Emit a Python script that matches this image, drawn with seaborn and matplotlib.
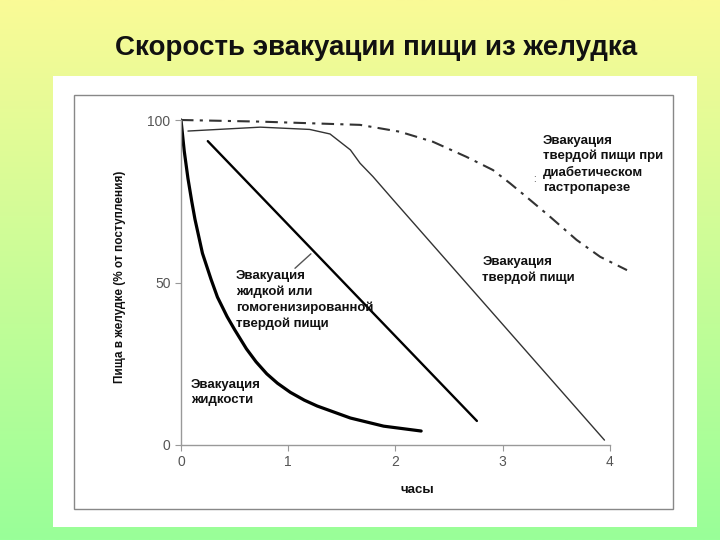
import numpy as np
import matplotlib.pyplot as plt
import seaborn as sns
from matplotlib.patches import Rectangle

# Data (hours, % of intake left in stomach)
liquid_t = [0, 0.03, 0.065, 0.1, 0.13, 0.2, 0.28, 0.34, 0.43, 0.5, 0.61, 0.7, 0.8, 0.9,
            1.02, 1.15, 1.27, 1.58, 1.89, 2.24]
liquid_y = [100, 90.5, 82, 75, 69.5, 59, 51, 45.5, 39.5, 35.5, 29.6, 25.6, 21.9, 19,
            16.2, 13.8, 12, 8.3, 5.8, 4.3]

homog_t = [0.25, 2.76]
homog_y = [93.5, 7.4]

solid_t = [0.065, 0.74, 1.2, 1.39, 1.58, 1.67, 1.79, 1.98, 3.95]
solid_y = [96.6, 97.8, 97.1, 95.7, 90.8, 86.7, 82.6, 75.4, 1.5]

diab_t = [0, 0.74, 1.67, 2.04, 2.35, 2.66, 2.91, 3.07, 3.22, 3.44, 3.69, 3.91, 4.16]
diab_y = [100, 99.5, 98.5, 96.4, 93.3, 88.7, 84.6, 80.5, 76.4, 70.3, 63.1, 57.9, 53.8]

x_ticks = [0, 1, 2, 3, 4]
y_ticks = [0, 50, 100]

title = "Скорость эвакуации пищи из желудка"
ylabel = "Пища в желудке (% от поступления)"
xlabel = "часы"

sns.set_style("white")
plt.rcParams['font.family'] = ['Liberation Sans', 'DejaVu Sans']

fig = plt.figure(figsize=(7.2, 5.4), dpi=100)

# gradient background yellow -> green
bg = fig.add_axes([0, 0, 1, 1])
top = np.array([250, 250, 150]) / 255
bottom = np.array([153, 255, 153]) / 255
grad = np.linspace(0, 1, 256)[:, None, None]
img = top + (bottom - top) * grad
bg.imshow(img, aspect='auto', extent=[0, 1, 0, 1])
bg.set_xlim(0, 1)
bg.set_ylim(0, 1)
bg.set_axis_off()

# white panel with thin frame
bg.add_patch(Rectangle((53 / 720, 13 / 540), 644 / 720, 451 / 540,
                       transform=bg.transAxes, facecolor='white', edgecolor='none'))
bg.add_patch(Rectangle((74 / 720, 31 / 540), 599 / 720, 414 / 540,
                       transform=bg.transAxes, fill=False, edgecolor='#888888', lw=1))

ax = fig.add_axes([181 / 720, 95 / 540, 461 / 720, 331.5 / 540])
ax.patch.set_alpha(0)

sns.lineplot(x=liquid_t, y=liquid_y, ax=ax, color='black', lw=2.3, sort=False, estimator=None)
sns.lineplot(x=homog_t, y=homog_y, ax=ax, color='black', lw=1.7, sort=False, estimator=None)
sns.lineplot(x=solid_t, y=solid_y, ax=ax, color='#333333', lw=1.0, sort=False, estimator=None)
sns.lineplot(x=diab_t, y=diab_y, ax=ax, color='#333333', lw=1.5, sort=False, estimator=None,
             linestyle=(0, (6, 3, 1.5, 3)))

ax.set_xlim(0, 4.3)
ax.set_ylim(0, 102)
ax.set_xticks(x_ticks)
ax.set_yticks(y_ticks)
ax.set_xlabel("")
ax.set_ylabel("")
for s in ['top', 'right']:
    ax.spines[s].set_visible(False)
for s in ['left', 'bottom']:
    ax.spines[s].set_color('#999999')
    ax.spines[s].set_linewidth(1)
ax.spines['bottom'].set_bounds(0, 4)
ax.spines['left'].set_bounds(0, 100)
ax.tick_params(bottom=True, left=True, color='#999999', labelcolor='#555555',
               labelsize=10, length=4, direction='out')

lab = dict(fontsize=9.5, fontweight='bold', ha='left', va='top', color='#111111',
           linespacing=1.35)
ax.text(3.375, 95.5, "Эвакуация\nтвердой пищи при\nдиабетическом\nгастропарезе", **lab)
ax.text(2.81, 58, "Эвакуация\nтвердой пищи", **lab)
ax.text(0.51, 53.8, "Эвакуация\nжидкой или\nгомогенизированной\nтвердой пищи", **lab)
ax.text(0.093, 20.3, "Эвакуация\nжидкости", **lab)
ax.text(3.30, 82, ":", fontsize=7, color='#333333', ha='center', va='center')

ax.annotate("", xy=(1.231, 59.4), xytext=(1.044, 53.8),
            arrowprops=dict(arrowstyle='-', color='#555555', lw=1))

fig.text(376 / 720, 1 - 48 / 540, title, ha='center', va='center',
         fontsize=20, fontweight='bold', color='#111111')
fig.text(120 / 720, 1 - 277 / 540, ylabel, rotation=90, ha='center', va='center',
         fontsize=8.5, fontweight='bold', color='#111111')
fig.text(417 / 720, 1 - 490 / 540, xlabel, ha='center', va='center',
         fontsize=9.5, fontweight='bold', color='#111111')

fig.savefig("out.png", dpi=100)
